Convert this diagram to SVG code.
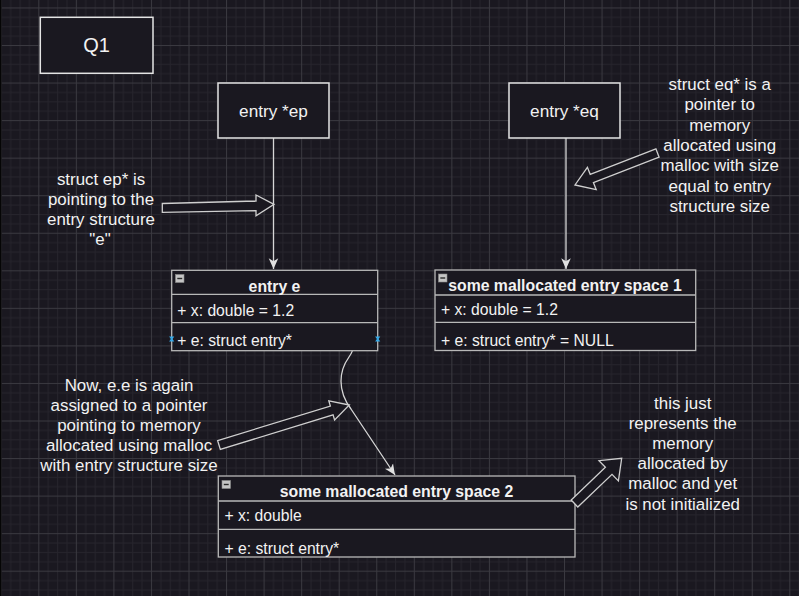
<svg xmlns="http://www.w3.org/2000/svg" width="799" height="596" viewBox="0 0 799 596">
<style>
text{font-family:"Liberation Sans",Arial,sans-serif;fill:#f2f2f2}
.lbl{font-size:16.9px;text-anchor:middle}
.ttl{font-size:20px;text-anchor:middle}
.ptr{font-size:17.2px;text-anchor:middle}
.hd{font-size:15.8px;font-weight:bold;text-anchor:middle}
.row{font-size:15.7px}
.box{fill:#1a1820;stroke:#e4e4e4;stroke-width:1.5}
.cls{fill:#1a1820;stroke:#b8b8b8;stroke-width:1.3}
.div{stroke:#b8b8b8;stroke-width:1.3}
.edge{fill:none;stroke:#d6d6d6;stroke-width:1.3}
.blk{fill:#1a1820;stroke:#cfcfcf;stroke-width:1.3;stroke-linejoin:miter}
.ico{fill:#c4c4c4;stroke:#8a8a8a;stroke-width:0.6}
.icm{stroke:#2a2a2a;stroke-width:1.4}
.pt{fill:#35a9e8}
</style>
<defs>
<pattern id="grid" patternUnits="userSpaceOnUse" x="0.75" y="7.45" width="37.55" height="37.55">
<rect width="37.55" height="37.55" fill="#1a1820"/>
<rect x="9.39" y="0" width="1" height="37.55" fill="#26242c"/>
<rect x="18.78" y="0" width="1" height="37.55" fill="#26242c"/>
<rect x="28.16" y="0" width="1" height="37.55" fill="#26242c"/>
<rect x="0" y="9.39" width="37.55" height="1" fill="#26242c"/>
<rect x="0" y="18.78" width="37.55" height="1" fill="#26242c"/>
<rect x="0" y="28.16" width="37.55" height="1" fill="#26242c"/>
<rect x="0" y="0" width="1" height="37.55" fill="#3a3940"/>
<rect x="0" y="0" width="37.55" height="1" fill="#3a3940"/>
</pattern>
<marker id="arr" markerUnits="userSpaceOnUse" markerWidth="12" markerHeight="12" viewBox="0 0 10 8" refX="9" refY="4" orient="auto">
<path d="M0,0 L9,4 L0,8 L2.5,4 Z" fill="#e0e0e0"/>
</marker>
<g id="minus">
<rect class="ico" x="0" y="0" width="8.5" height="8"/>
<line class="icm" x1="1.8" y1="4" x2="6.7" y2="4"/>
</g>
<path id="xpt" class="pt" d="M-2.6,-2.6 L2.6,-2.6 L0.8,0 L2.6,2.6 L-2.6,2.6 L-0.8,0 Z"/>
</defs>
<rect width="799" height="596" fill="url(#grid)"/>
<rect x="0" y="0" width="1.5" height="596" fill="#050505"/>

<g id="connectors">
<line class="edge" x1="273.5" y1="138" x2="273.5" y2="269" marker-end="url(#arr)"/>
<line class="edge" x1="566" y1="138" x2="566" y2="269" marker-end="url(#arr)"/>
<path class="edge" d="M322,336 C342,335 362,338 349,357 C339,371 337,390 351,409 L395,475" marker-end="url(#arr)"/>
</g>

<g id="node-q1">
<rect class="box" x="40.3" y="17.3" width="112.7" height="56"/>
<text class="ttl" x="96.5" y="52">Q1</text>
</g>

<g id="node-entry-ep">
<rect class="box" x="218" y="83" width="111" height="55"/>
<text class="ptr" x="273.5" y="116.5">entry *ep</text>
</g>

<g id="node-entry-eq">
<rect class="box" x="509" y="83" width="111" height="55"/>
<text class="ptr" x="564.5" y="116.5">entry *eq</text>
</g>

<g id="node-entry-e">
<rect class="cls" x="171.7" y="270.3" width="206" height="80.4"/>
<line class="div" x1="171.7" y1="294.3" x2="377.7" y2="294.3"/>
<line class="div" x1="171.7" y1="322.7" x2="377.7" y2="322.7"/>
<use href="#minus" x="175.5" y="274.5"/>
<text class="hd" x="274.5" y="291.5">entry e</text>
<text class="row" x="177.3" y="315.5">+ x: double = 1.2</text>
<text class="row" x="177.3" y="346">+ e: struct entry*</text>
<use href="#xpt" x="171.7" y="339"/>
<use href="#xpt" x="377.7" y="339"/>
</g>

<g id="node-space-1">
<rect class="cls" x="435" y="270" width="260.7" height="80.5"/>
<line class="div" x1="435" y1="295" x2="695.7" y2="295"/>
<line class="div" x1="435" y1="322.3" x2="695.7" y2="322.3"/>
<use href="#minus" x="438.5" y="274"/>
<text class="hd" x="565" y="291">some mallocated entry space 1</text>
<text class="row" x="441" y="314.5">+ x: double = 1.2</text>
<text class="row" x="441" y="346">+ e: struct entry* = NULL</text>
</g>

<g id="node-space-2">
<rect class="cls" x="218.3" y="476" width="356.7" height="81"/>
<line class="div" x1="218.3" y1="501" x2="575" y2="501"/>
<line class="div" x1="218.3" y1="529.3" x2="575" y2="529.3"/>
<use href="#minus" x="222" y="480.5"/>
<text class="hd" x="396.5" y="497">some mallocated entry space 2</text>
<text class="row" x="224.5" y="520.5">+ x: double</text>
<text class="row" x="224.5" y="553.5">+ e: struct entry*</text>
</g>

<g id="note-ep">
<text class="lbl" x="101" y="185">struct ep* is</text>
<text class="lbl" x="101" y="205">pointing to the</text>
<text class="lbl" x="101" y="225">entry structure</text>
<text class="lbl" x="100" y="245">"e"</text>
</g>

<g id="note-eq">
<text class="lbl" x="719.7" y="90">struct eq* is a</text>
<text class="lbl" x="719.7" y="110.3">pointer to</text>
<text class="lbl" x="719.7" y="130.6">memory</text>
<text class="lbl" x="719.7" y="150.9">allocated using</text>
<text class="lbl" x="719.7" y="171.2">malloc with size</text>
<text class="lbl" x="719.7" y="191.5">equal to entry</text>
<text class="lbl" x="719.7" y="211.8">structure size</text>
</g>

<g id="note-now">
<text class="lbl" x="129" y="390.5">Now, e.e is again</text>
<text class="lbl" x="129" y="410.7">assigned to a pointer</text>
<text class="lbl" x="129" y="430.9">pointing to memory</text>
<text class="lbl" x="129" y="451.1">allocated using malloc</text>
<text class="lbl" x="129" y="471.3">with entry structure size</text>
</g>

<g id="note-uninit">
<text class="lbl" x="682.7" y="408.5">this just</text>
<text class="lbl" x="682.7" y="428.7">represents the</text>
<text class="lbl" x="682.7" y="448.9">memory</text>
<text class="lbl" x="682.7" y="469.1">allocated by</text>
<text class="lbl" x="682.7" y="489.3">malloc and yet</text>
<text class="lbl" x="682.7" y="509.5">is not initialized</text>
</g>

<g id="arrow-ep">
<polygon class="blk" points="162.3,203.5 256,201 256,195 274,204.3 256,215.7 256,210.7 162.3,212.3"/>
</g>
<g id="arrow-eq">
<polygon class="blk" points="655.9,148.8 590.2,174.3 587.4,167.3 575,185 596.2,189.6 593.4,182.6 659.1,157.2"/>
</g>
<g id="arrow-now">
<polygon class="blk" points="217.65,440.6 330.35,406 328.8,400.8 349.3,405 334.6,420 333.05,414.8 220.35,449.4"/>
</g>
<g id="arrow-uninit">
<polygon class="blk" points="571.2,500 605.4,467.3 599,460.7 621.7,458.3 618.4,480.9 612,474.3 577.8,507"/>
</g>
</svg>
